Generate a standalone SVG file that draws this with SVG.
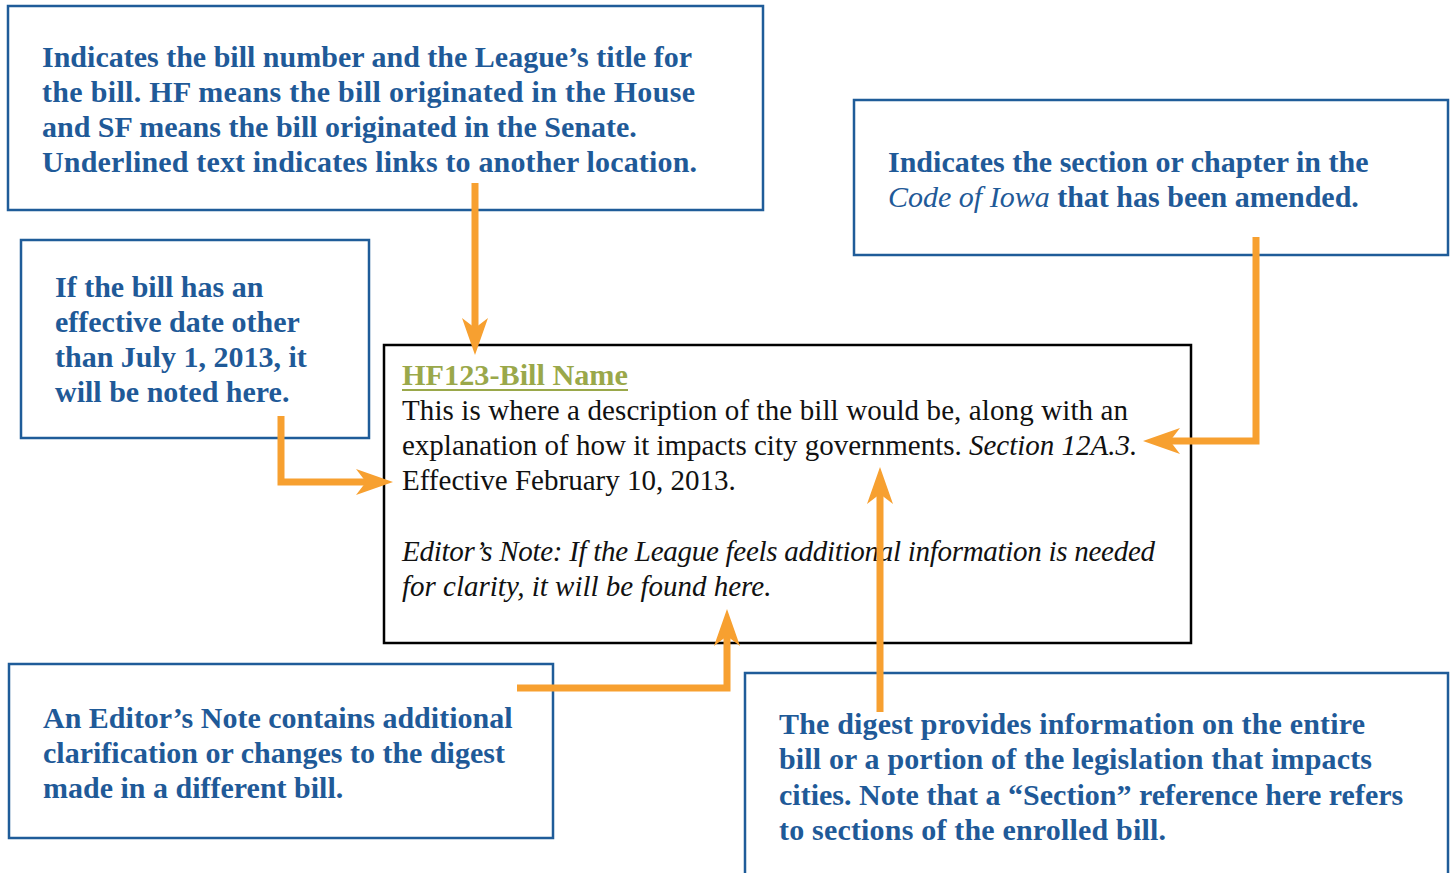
<svg xmlns="http://www.w3.org/2000/svg" width="1455" height="873" viewBox="0 0 1455 873">
<defs>
<style>
.box{fill:#fff;stroke:#1f5c99;stroke-width:2.5}
.main{fill:#fff;stroke:#000;stroke-width:2.5}
.note{font-family:"Liberation Serif",serif;font-weight:bold;font-size:30px;fill:#1f5a98}
.body{font-family:"Liberation Serif",serif;font-size:29px;fill:#111}
.it{font-style:italic}
.nb{font-weight:normal;font-style:italic}
.title{font-family:"Liberation Serif",serif;font-size:30px;fill:#9aa84a;font-weight:bold}
.conn{fill:none;stroke:#f7a030;stroke-width:7;stroke-linejoin:miter}
.head{fill:#f7a030}
</style>
</defs>
<rect width="1455" height="873" fill="#fff"/>
<g id="main">
<rect class="main" x="384" y="345" width="807" height="298"/>
<text class="title" x="402" y="385" textLength="226" lengthAdjust="spacingAndGlyphs">HF123-Bill Name</text>
<rect x="402" y="389" width="226" height="2" fill="#9aa84a"/>
<text class="body" x="402" y="420" textLength="726">This is where a description of the bill would be, along with an</text>
<text class="body" x="402" y="455">explanation of how it impacts city governments. <tspan class="it">Section 12A.3.</tspan></text>
<text class="body" x="402" y="490">Effective February 10, 2013.</text>
<text class="body it" x="402" y="561" textLength="753">Editor’s Note: If the League feels additional information is needed</text>
<text class="body it" x="402" y="596">for clarity, it will be found here.</text>
</g>
<g id="note-title">
<rect class="box" x="8" y="6" width="755" height="204"/>
<text class="note" x="42" y="67">Indicates the bill number and the League’s title for</text>
<text class="note" x="42" y="102" textLength="653">the bill. HF means the bill originated in the House</text>
<text class="note" x="42" y="137">and SF means the bill originated in the Senate.</text>
<text class="note" x="42" y="172" textLength="655">Underlined text indicates links to another location.</text>
</g>
<g id="note-code">
<rect class="box" x="854" y="100" width="594" height="155"/>
<text class="note" x="888" y="172">Indicates the section or chapter in the</text>
<text class="note" x="888" y="207"><tspan class="nb">Code of Iowa</tspan> that has been amended.</text>
</g>
<g id="note-effective">
<rect class="box" x="21" y="240" width="348" height="198"/>
<text class="note" x="55" y="297">If the bill has an</text>
<text class="note" x="55" y="332">effective date other</text>
<text class="note" x="55" y="367">than July 1, 2013, it</text>
<text class="note" x="55" y="402">will be noted here.</text>
</g>
<g id="note-editor">
<rect class="box" x="9" y="664" width="544" height="174"/>
<text class="note" x="43" y="728">An Editor’s Note contains additional</text>
<text class="note" x="43" y="763">clarification or changes to the digest</text>
<text class="note" x="43" y="798">made in a different bill.</text>
</g>
<g id="note-digest">
<rect class="box" x="745" y="673" width="703" height="215"/>
<text class="note" x="779" y="734" textLength="586">The digest provides information on the entire</text>
<text class="note" x="779" y="769" textLength="593">bill or a portion of the legislation that impacts</text>
<text class="note" x="779" y="805">cities. Note that a “Section” reference here refers</text>
<text class="note" x="779" y="840" textLength="387">to sections of the enrolled bill.</text>
</g>
<g id="connectors">
<path class="conn" d="M475,183 V330"/>
<path class="head" d="M475,355 L462,318 L475,328 L488,318 Z"/>
<path class="conn" d="M1256,237 V441 H1160"/>
<path class="head" d="M1143,441 L1180,428 L1170,441 L1180,454 Z"/>
<path class="conn" d="M281,416 V482 H375"/>
<path class="head" d="M393,482 L356,469 L366,482 L356,495 Z"/>
<path class="conn" d="M517,688 H727 V625"/>
<path class="head" d="M727,609 L714,646 L727,636 L740,646 Z"/>
<path class="conn" d="M880,712 V490"/>
<path class="head" d="M880,467 L867,504 L880,494 L893,504 Z"/>
</g>
</svg>
